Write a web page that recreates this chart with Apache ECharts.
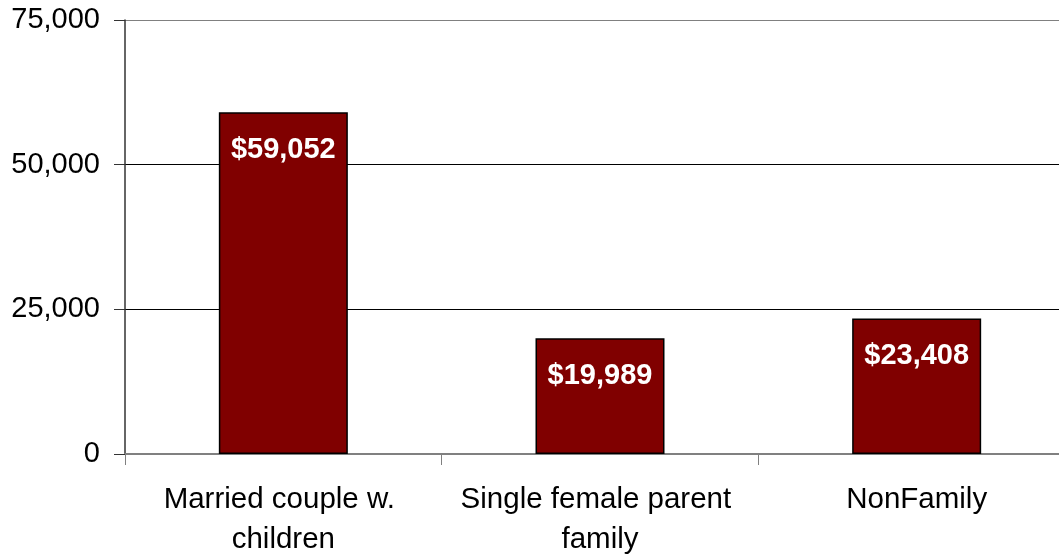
<!DOCTYPE html>
<html>
<head>
<meta charset="utf-8">
<script src="https://cdn.jsdelivr.net/npm/echarts@6/dist/echarts.min.js"></script>
<style>
  html, body { margin: 0; padding: 0; background: #fff; overflow: hidden; }
  #chart { width: 1075px; height: 554px; }
</style>
</head>
<body>
<div id="chart"></div>
<script>
var categories = ['Married couple w. children', 'Single female parent family', 'NonFamily'];
var incomes = [59052, 19989, 23408];
var yTicks = [0, 25000, 50000, 75000];

var chart = echarts.init(document.getElementById('chart'));

function money(v) {
    return '$' + v.toLocaleString('en-US');
}

var option = {
    animation: false,
    textStyle: { fontFamily: '"Liberation Sans", Arial, sans-serif' },
    grid: { left: 125, right: 0, top: 20, bottom: 100, containLabel: false, outerBoundsMode: 'none' },
    xAxis: {
        type: 'category',
        data: categories,
        axisLine: { lineStyle: { color: '#808080', width: 2 } },
        axisTick: { show: true, length: 11, lineStyle: { color: '#808080' } },
        axisLabel: {
            color: '#000',
            fontSize: 29.5,
            margin: 26,
            lineHeight: 40,
            width: 290,
            overflow: 'break',
            interval: 0
        }
    },
    yAxis: {
        type: 'value',
        min: yTicks[0],
        max: yTicks[yTicks.length - 1],
        interval: 25000,
        axisLine: { show: true, lineStyle: { color: '#333', width: 1.5 } },
        axisTick: { show: true, inside: false, length: 11, lineStyle: { color: '#333' } },
        axisLabel: {
            color: '#000',
            fontSize: 29,
            margin: 25,
            formatter: function (v) { return v.toLocaleString('en-US'); }
        },
        splitLine: {
            show: true,
            lineStyle: { color: ['#808080', '#000', '#000', '#808080'], width: 1 }
        }
    },
    series: [{
        type: 'bar',
        data: incomes,
        barWidth: 129,
        itemStyle: { color: '#800000', borderColor: '#000', borderWidth: 1.5 },
        label: {
            show: true,
            position: 'insideTop',
            distance: 23,
            color: '#fff',
            fontSize: 29,
            fontWeight: 'bold',
            formatter: function (p) { return money(p.value); }
        }
    }]
};

chart.setOption(option);
</script>
</body>
</html>
